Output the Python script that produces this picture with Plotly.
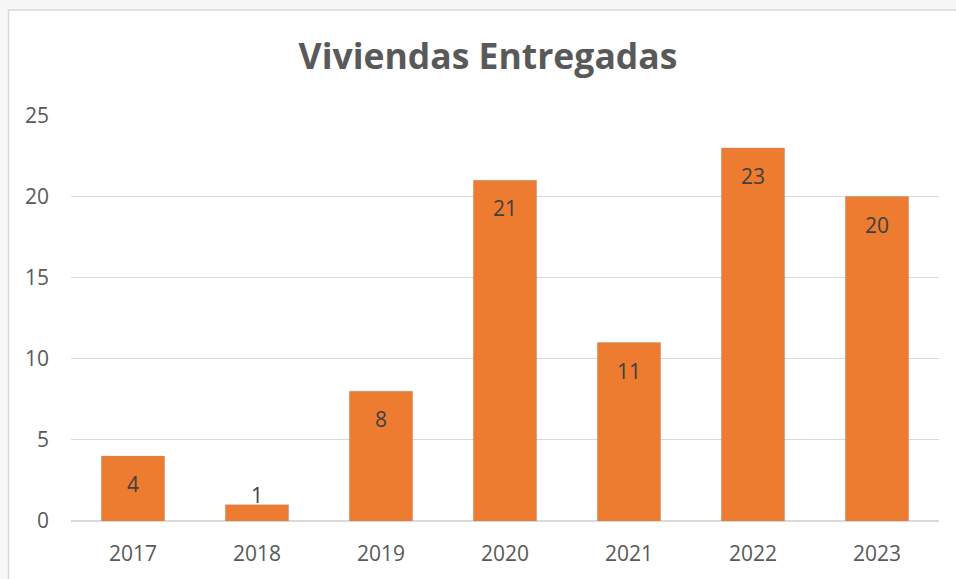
import plotly.graph_objects as go

years = ["2017", "2018", "2019", "2020", "2021", "2022", "2023"]
viviendas = [4, 1, 8, 21, 11, 23, 20]
y_ticks = [0, 5, 10, 15, 20, 25]

FONT = "Open Sans"
TXT = "#595959"
W, H = 956, 579
PL, PR, PT, PB = 71, 17, 115, 56
PW, PH = W - PL - PR, H - PT - PB

fig = go.Figure()
fig.add_trace(go.Bar(
    x=years, y=viviendas,
    marker=dict(color="#ed7b30", line=dict(color="rgba(150,150,150,0.35)", width=1)),
    hoverinfo="x+y",
))

annotations = []
for i, v in enumerate(viviendas):
    small = v < 2
    annotations.append(dict(
        x=i, y=v, xref="x", yref="y", text=str(v), showarrow=False,
        yshift=10 if small else -28,
        font=dict(family=FONT, size=21, color="#404040"),
    ))

fig.update_layout(
    width=W, height=H,
    margin=dict(l=PL, r=PR, t=PT, b=PB),
    paper_bgcolor="#f7f7f7",
    plot_bgcolor="rgba(0,0,0,0)",
    bargap=0.49,
    showlegend=False,
    title=dict(text="<b>Viviendas Entregadas</b>", x=488 / W, xref="container", xanchor="center",
               y=1 - 57 / H, yref="container", yanchor="middle",
               font=dict(family=FONT, size=35.5, color=TXT)),
    font=dict(family=FONT, size=21, color=TXT),
    annotations=annotations,
    shapes=[dict(type="rect", xref="paper", yref="paper",
                 x0=(8.5 - PL) / PW, x1=1.2, y0=-0.3, y1=(PT + PH - 9.5) / PH,
                 fillcolor="white", line=dict(color="#d9d9d9", width=1.5), layer="below")],
)
fig.update_xaxes(type="category", range=[-0.5, len(years) - 0.5], showgrid=False, showline=False,
                 ticks="", ticklabelstandoff=18,
                 tickfont=dict(family=FONT, size=21, color=TXT))
fig.update_yaxes(range=[0, 25.03], tickvals=y_ticks, showgrid=True, gridcolor="#d9d9d9", gridwidth=1,
                 zeroline=True, zerolinecolor="#d9d9d9", zerolinewidth=1.5,
                 showline=False, ticks="", ticklabelstandoff=21,
                 tickfont=dict(family=FONT, size=21, color=TXT))

fig.write_html("out.html", config={"displayModeBar": False},
               post_script="document.body.style.margin='0';document.body.style.background='#f7f7f7';")
